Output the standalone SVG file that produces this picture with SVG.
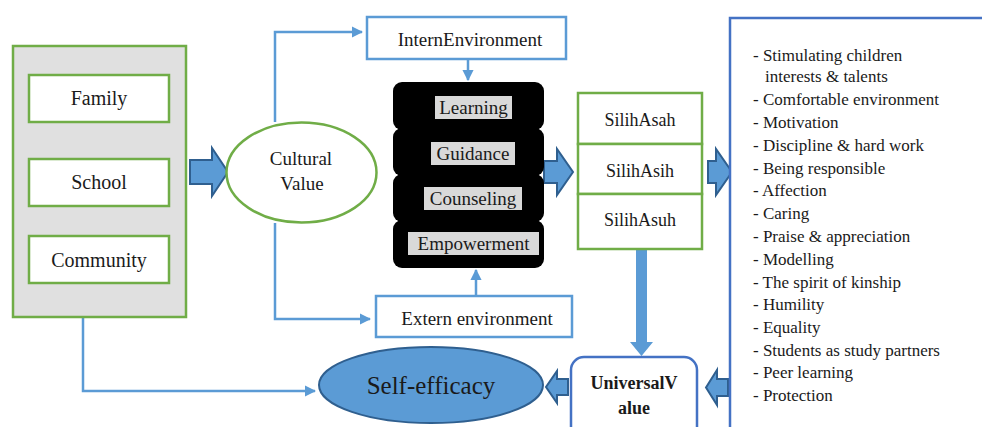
<svg xmlns="http://www.w3.org/2000/svg" width="982" height="427" viewBox="0 0 982 427" font-family="Liberation Serif">
<style>
text{fill:#1a1a1a;font-family:'Liberation Serif',serif}
.c{text-anchor:middle}
.g{fill:#fff;stroke:#70ad47;stroke-width:2.5}
.b{fill:#fff;stroke:#5b9bd5;stroke-width:2.5}
.conn{fill:none;stroke:#5b9bd5;stroke-width:2.5}
.ba{fill:#5b9bd5;stroke:#2f5f8f;stroke-width:2;stroke-linejoin:miter}
.hl{fill:#d9d9d9}
</style>
<defs>
<marker id="ah" viewBox="0 0 10 10" refX="9" refY="5" markerWidth="4.5" markerHeight="4.5" orient="auto" markerUnits="strokeWidth">
<path d="M0,0 L10,5 L0,10 z" fill="#5b9bd5"/>
</marker>
</defs>
<rect width="982" height="427" fill="#fff"/>

<g id="connectors">
<path class="conn" d="M275,122 V32 H362" marker-end="url(#ah)"/>
<path class="conn" d="M275,223 V319 H370" marker-end="url(#ah)"/>
<path class="conn" d="M468,59 V80" marker-end="url(#ah)"/>
<path class="conn" d="M476,296 V270" marker-end="url(#ah)"/>
<path class="conn" d="M83,317 V391 H315" marker-end="url(#ah)"/>
<path d="M636,249 H647 V342 H653 L641.5,356 L630,342 H636 Z" fill="#5b9bd5"/>
<path class="ba" d="M190,160 H212 V148 L228,172 L212,196 V184 H190 Z"/>
<path class="ba" d="M544,161 H557 V149 L573,172 L557,195 V183 H544 Z"/>
<path class="ba" d="M708,161 H716 V149 L732,172 L716,195 V183 H708 Z"/>
<path class="ba" d="M728,379 H717 V370 L706,387.5 L717,405 V396 H728 Z"/>
<path class="ba" d="M568,379 H557 V371 L546,387 L557,403 V395 H568 Z"/>
</g>

<g id="sources">
<rect x="13" y="46" width="173" height="271" fill="#e0e0e0" stroke="#70ad47" stroke-width="2.5"/>
</g>
<g id="family"><rect class="g" x="29" y="75" width="140" height="47"/><text class="c" x="99" y="105" font-size="20" font-family="Liberation Serif" style="font-family:'Liberation Serif',serif">Family</text></g>
<g id="school"><rect class="g" x="29" y="159" width="140" height="47"/><text class="c" x="99" y="189" font-size="20" font-family="Liberation Serif" style="font-family:'Liberation Serif',serif">School</text></g>
<g id="community"><rect class="g" x="29" y="236" width="140" height="47"/><text class="c" x="99" y="267" font-size="20" font-family="Liberation Serif" style="font-family:'Liberation Serif',serif">Community</text></g>

<g id="cultural-value">
<ellipse cx="301.5" cy="172.5" rx="75" ry="50" fill="#fff" stroke="#70ad47" stroke-width="2.5"/>
<text class="c" x="301" y="165" font-size="19" font-family="Liberation Serif" style="font-family:'Liberation Serif',serif">Cultural</text>
<text class="c" x="302" y="190" font-size="19" font-family="Liberation Serif" style="font-family:'Liberation Serif',serif">Value</text>
</g>

<g id="intern-environment">
<rect class="b" x="367" y="17" width="199" height="42"/>
<text class="c" x="470" y="46" font-size="19" font-family="Liberation Serif" style="font-family:'Liberation Serif',serif">InternEnvironment</text>
</g>

<g id="extern-environment">
<rect class="b" x="376" y="296" width="196" height="41"/>
<text class="c" x="477" y="325" font-size="19" font-family="Liberation Serif" style="font-family:'Liberation Serif',serif">Extern environment</text>
</g>

<g id="process">
<rect x="393" y="82" width="151" height="48" rx="9" fill="#000"/>
<rect x="393" y="128" width="151" height="48" rx="9" fill="#000"/>
<rect x="393" y="174" width="151" height="48" rx="9" fill="#000"/>
<rect x="393" y="220" width="151" height="48" rx="9" fill="#000"/>
<rect class="hl" x="435" y="96" width="77" height="23"/>
<rect class="hl" x="431" y="142" width="84" height="23"/>
<rect class="hl" x="424" y="187" width="98" height="23"/>
<rect class="hl" x="408" y="232" width="131" height="23"/>
<text class="c" x="473.5" y="114" font-size="19" font-family="Liberation Serif" style="font-family:'Liberation Serif',serif">Learning</text>
<text class="c" x="473" y="160" font-size="19" font-family="Liberation Serif" style="font-family:'Liberation Serif',serif">Guidance</text>
<text class="c" x="473" y="205" font-size="19" font-family="Liberation Serif" style="font-family:'Liberation Serif',serif">Counseling</text>
<text class="c" x="473.5" y="250" font-size="19" font-family="Liberation Serif" style="font-family:'Liberation Serif',serif">Empowerment</text>
</g>

<g id="silih">
<rect class="g" x="578" y="93" width="124" height="51"/>
<rect class="g" x="578" y="144" width="124" height="50"/>
<rect class="g" x="578" y="194" width="124" height="55"/>
<text class="c" x="640" y="126" font-size="18" font-family="Liberation Serif" style="font-family:'Liberation Serif',serif">SilihAsah</text>
<text class="c" x="640" y="177" font-size="18" font-family="Liberation Serif" style="font-family:'Liberation Serif',serif">SilihAsih</text>
<text class="c" x="640" y="226" font-size="18" font-family="Liberation Serif" style="font-family:'Liberation Serif',serif">SilihAsuh</text>
</g>

<g id="values-list" font-size="17" font-family="Liberation Serif">
<path d="M730,430 V18 H985" fill="#fff" stroke="#4472c4" stroke-width="2.5"/>
<text x="753" y="61" style="font-family:'Liberation Serif',serif">- Stimulating children</text>
<text x="765" y="82" style="font-family:'Liberation Serif',serif">interests &amp; talents</text>
<text x="753" y="105" style="font-family:'Liberation Serif',serif">- Comfortable environment</text>
<text x="753" y="128" style="font-family:'Liberation Serif',serif">- Motivation</text>
<text x="753" y="151" style="font-family:'Liberation Serif',serif">- Discipline &amp; hard work</text>
<text x="753" y="174" style="font-family:'Liberation Serif',serif">- Being responsible</text>
<text x="753" y="196" style="font-family:'Liberation Serif',serif">- Affection</text>
<text x="753" y="219" style="font-family:'Liberation Serif',serif">- Caring</text>
<text x="753" y="242" style="font-family:'Liberation Serif',serif">- Praise &amp; appreciation</text>
<text x="753" y="265" style="font-family:'Liberation Serif',serif">- Modelling</text>
<text x="753" y="288" style="font-family:'Liberation Serif',serif">- The spirit of kinship</text>
<text x="753" y="310" style="font-family:'Liberation Serif',serif">- Humility</text>
<text x="753" y="333" style="font-family:'Liberation Serif',serif">- Equality</text>
<text x="753" y="356" style="font-family:'Liberation Serif',serif">- Students as study partners</text>
<text x="753" y="378" style="font-family:'Liberation Serif',serif">- Peer learning</text>
<text x="753" y="401" style="font-family:'Liberation Serif',serif">- Protection</text>
</g>

<g id="universal-value">
<rect x="571" y="357" width="126" height="90" rx="13" fill="#fff" stroke="#4472c4" stroke-width="2.5"/>
<text class="c" x="634" y="389" font-size="18" font-weight="bold" font-family="Liberation Serif" style="font-family:'Liberation Serif',serif">UniversalV</text>
<text class="c" x="634" y="414" font-size="18" font-weight="bold" font-family="Liberation Serif" style="font-family:'Liberation Serif',serif">alue</text>
</g>

<g id="self-efficacy">
<ellipse cx="431" cy="385" rx="112" ry="38" fill="#5b9bd5" stroke="#2f5f8f" stroke-width="2"/>
<text class="c" x="431" y="394" font-size="25" font-family="Liberation Serif" style="font-family:'Liberation Serif',serif">Self-efficacy</text>
</g>
</svg>
